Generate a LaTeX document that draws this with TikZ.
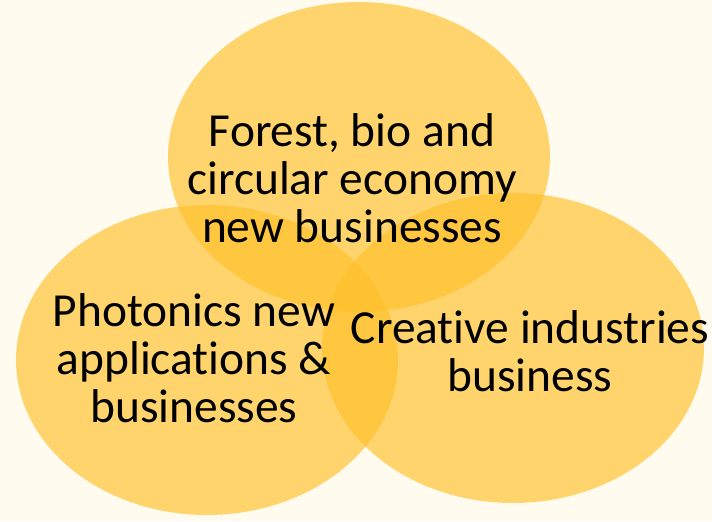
\documentclass[tikz,border=0pt]{standalone}
\usepackage{fontspec}
\setmainfont{Carlito}[Ligatures=NoCommon]
\usepackage{xcolor}
\usetikzlibrary{shapes.geometric, positioning}

\definecolor{vennfill}{RGB}{255,192,40}
\definecolor{paper}{RGB}{255,251,238}

\begin{document}
\begin{tikzpicture}[x=0.02cm, y=-0.02cm,
		venn/.style={ellipse, fill=vennfill, fill opacity=0.65, draw=none,
			minimum width=7.64cm, minimum height=6.2cm, inner sep=0pt},
		label/.style={align=center, text=black, font=\fontsize{27}{27.3}\selectfont}]
			\fill[paper] (0,0) rectangle (712,521);
			\useasboundingbox (0,0) rectangle (712,521);
			
			\node[venn] (forest) at (359,157) {};
			\node[venn] (photonics) at (207,360) {};
			\node[venn] (creative) at (513,348) {};
			
			\node[label] (forestText) at (352,178) {Forest, bio and\\circular economy\\new businesses};
			\node[label] (photonicsText) at (194,358) {Photonics new\\applications \&\\businesses};
			\node[label] (creativeText) at (530,351) {Creative industries\\business};
			
		\end{tikzpicture}
\end{document}
